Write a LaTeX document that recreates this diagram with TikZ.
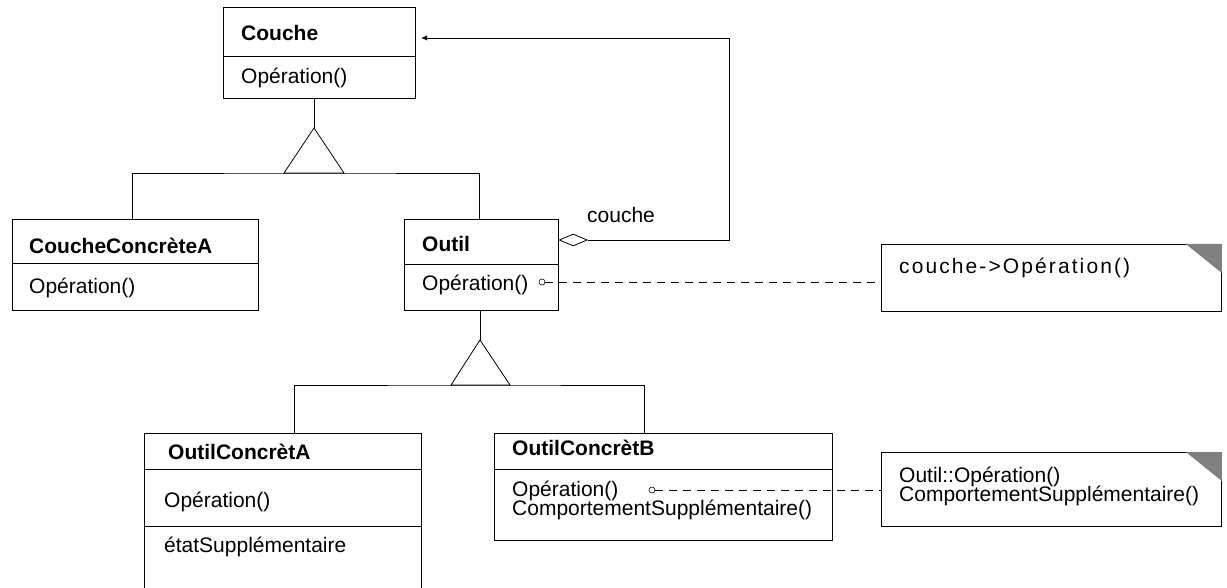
\documentclass[tikz,border=0pt]{standalone}
\usepackage{fontspec}
\setmainfont{Liberation Sans}
\usetikzlibrary{arrows.meta,shapes.geometric}

\tikzstyle{cls} = [draw, line width=0.8pt, inner sep=0pt, anchor=north west]
\tikzstyle{t1} = [anchor=west, inner sep=0pt, font=\fontsize{21}{24}\selectfont]
\tikzstyle{t1b} = [anchor=west, inner sep=0pt, font=\fontsize{21}{24}\selectfont\bfseries]
\tikzstyle{ln} = [line width=0.8pt]
\tikzstyle{dl} = [line width=0.8pt, dash pattern=on 8pt off 6pt]
\tikzstyle{pin} = [circle, draw, line width=0.6pt, minimum size=6pt, inner sep=0pt]

\begin{document}
\begin{tikzpicture}[x=1pt, y=-1pt]
    \useasboundingbox (0,0) rectangle (1227,588);

    \node[cls, minimum width=192pt, minimum height=91pt] (couche) at (223,7) {};
    \draw[ln] (couche.west |- 0,56) -- (couche.east |- 0,56);
    \node[t1b] (coucheT) at (241,33) {Couche};
    \node[t1] (coucheO) at (241,78) {Opération()};

    \node[cls, minimum width=246pt, minimum height=91pt] (cca) at (12,219) {};
    \draw[ln] (cca.west |- 0,263) -- (cca.east |- 0,263);
    \node[t1b] (ccaT) at (29,246) {CoucheConcrèteA};
    \node[t1] (ccaO) at (29,288) {Opération()};

    \node[cls, minimum width=154pt, minimum height=91pt] (outil) at (404,219) {};
    \draw[ln] (outil.west |- 0,264) -- (outil.east |- 0,264);
    \node[t1b] (outilT) at (422,244) {Outil};
    \node[t1] (outilO) at (422,285) {Opération()};
    \node[pin] (pinA) at (542,282) {};

    \node[cls, minimum width=277pt, minimum height=165pt] (oca) at (144,433) {};
    \draw[ln] (oca.west |- 0,469) -- (oca.east |- 0,469);
    \draw[ln] (oca.west |- 0,526) -- (oca.east |- 0,526);
    \node[t1b] (ocaT) at (168,452) {OutilConcrètA};
    \node[t1] (ocaO) at (164,502) {Opération()};
    \node[t1] (ocaE) at (164,547) {étatSupplémentaire};

    \node[cls, minimum width=338pt, minimum height=107pt] (ocb) at (494,433) {};
    \draw[ln] (ocb.west |- 0,469) -- (ocb.east |- 0,469);
    \node[t1b] (ocbT) at (512,448) {OutilConcrètB};
    \node[t1, align=left] (ocbO) at (512,500) {Opération()\\[-5pt]ComportementSupplémentaire()};
    \node[pin] (pinB) at (652,490) {};

    \node[cls, minimum width=340pt, minimum height=67pt] (note1) at (881,244) {};
    \fill[gray] ([xshift=-36pt]note1.north east) -- (note1.north east) -- ([yshift=-29pt]note1.north east) -- cycle;
    \node[t1, font=\fontsize{21}{24}\selectfont\addfontfeature{LetterSpace=10}] (note1T) at (899,268) {couche->Opération()};

    \node[cls, minimum width=340pt, minimum height=74pt] (note2) at (881,452) {};
    \fill[gray] ([xshift=-36pt]note2.north east) -- (note2.north east) -- ([yshift=-29pt]note2.north east) -- cycle;
    \node[t1, align=left] (note2T) at (899,486) {Outil::Opération()\\[-5pt]ComportementSupplémentaire()};

    \coordinate (apex1) at (314,128);
    \coordinate (apex2) at (480,340);
    \draw[ln] (couche.south -| apex1) -- (apex1);
    \draw[ln] (apex1) -- (284,173) -- (344,173) -- cycle;
    \draw[ln] (cca.north -| 132,0) |- (apex1 |- 0,173) -| (outil.north -| 479,0);
    \draw[ln] (outil.south -| apex2) -- (apex2);
    \draw[ln] (apex2) -- (451,385) -- (510,385) -- cycle;
    \draw[ln] (oca.north -| 294,0) |- (apex2 |- 0,385) -| (ocb.north -| 644,0);

    \node[diamond, draw, line width=0.8pt, inner sep=0pt, minimum width=28pt, minimum height=12pt, anchor=west] (agg) at (outil.east |- 0,240) {};
    \coordinate (bendC) at (729,38);
    \coordinate (tipC) at (421,38);
    \draw[ln, -{Latex[length=6pt, width=5pt]}] (agg.east) -| (bendC) -- (tipC);
    \node[t1] (aggL) at (587,215) {couche};

    \draw[dl] (pinA) -- (note1.west |- pinA);
    \draw[dl] (pinB) -- (note2.west |- pinB);
\end{tikzpicture}
\end{document}
